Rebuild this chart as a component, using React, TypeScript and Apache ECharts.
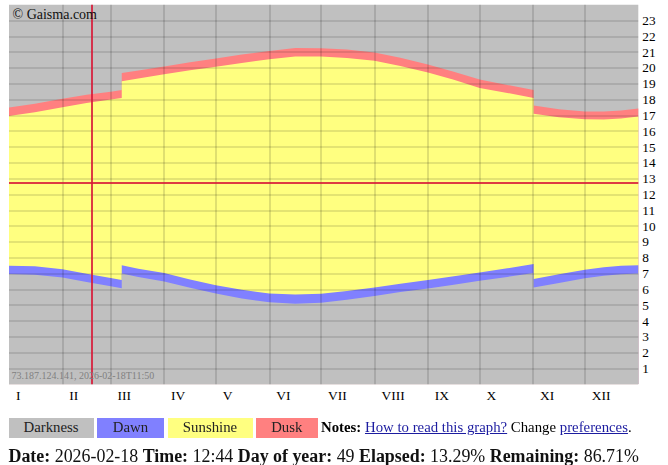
import React, { useEffect, useRef } from "react";
import * as echarts from "echarts";

const monthLabels = ["I", "II", "III", "IV", "V", "VI", "VII", "VIII", "IX", "X", "XI", "XII"];
const monthStarts = [0, 31, 59, 90, 120, 151, 181, 212, 243, 273, 304, 334];
const hourTicks = [1, 2, 3, 4, 5, 6, 7, 8, 9, 10, 11, 12, 13, 14, 15, 16, 17, 18, 19, 20, 21, 22, 23];

// day of year (0-based); duplicated days are the daylight-saving jumps
const days = [0, 15, 31, 45, 59, 65.4, 65.4, 75, 90, 105, 120, 135, 151, 166, 181, 196, 212, 227, 243, 258, 273, 289, 304.3, 304.3, 319, 334, 345, 355, 365];
const dawnStart = [6.97, 6.93, 6.76, 6.46, 6.2, 6.07, 7.0, 6.78, 6.5, 6.1, 5.74, 5.42, 5.18, 5.1, 5.16, 5.34, 5.59, 5.83, 6.06, 6.3, 6.54, 6.79, 7.04, 6.12, 6.41, 6.7, 6.86, 6.96, 7.0];
const sunrise = [7.5, 7.46, 7.28, 6.99, 6.72, 6.6, 7.52, 7.3, 7.03, 6.63, 6.27, 5.97, 5.74, 5.67, 5.73, 5.9, 6.12, 6.36, 6.6, 6.83, 7.07, 7.33, 7.6, 6.65, 6.95, 7.24, 7.4, 7.5, 7.53];
const sunset = [16.96, 17.2, 17.52, 17.78, 18.0, 18.1, 19.16, 19.33, 19.6, 19.85, 20.07, 20.32, 20.55, 20.72, 20.72, 20.63, 20.45, 20.12, 19.71, 19.25, 18.74, 18.42, 18.1, 17.11, 16.88, 16.75, 16.74, 16.8, 16.93];
const duskEnd = [17.5, 17.74, 18.05, 18.3, 18.5, 18.6, 19.68, 19.84, 20.1, 20.36, 20.6, 20.85, 21.08, 21.26, 21.25, 21.16, 20.98, 20.64, 20.22, 19.76, 19.27, 18.93, 18.61, 17.63, 17.39, 17.25, 17.24, 17.31, 17.44];

const todayDay = 48.2;
const nowHour = 12 + 44 / 60;

const FONT = "'Liberation Serif', 'Times New Roman', serif";
const LABEL_SHIFT = 4;

const legendItems = [
  { name: "Darkness", color: "#c0c0c0", left: 8.5, width: 85 },
  { name: "Dawn", color: "#8080ff", left: 97, width: 67 },
  { name: "Sunshine", color: "#ffff80", left: 167.5, width: 85 },
  { name: "Dusk", color: "#ff8080", left: 256, width: 61.5 },
];

function areaSeries(name: string, values: number[], color: string) {
  return {
    type: "line",
    name,
    data: days.map((d, i) => [d, values[i]]),
    symbol: "none",
    showSymbol: false,
    silent: true,
    lineStyle: { width: 0 },
    areaStyle: { color, opacity: 1, origin: "start" },
    z: 2,
  };
}

export default function App() {
  const ref = useRef<HTMLDivElement>(null);
  useEffect(() => {
    if (!ref.current) return;
    const chart = echarts.init(ref.current, undefined, { renderer: "svg" });
    const option: any = {
      animation: false,
      grid: {
        left: 9,
        top: 4.7,
        width: 629.3,
        height: 379.6,
        show: true,
        backgroundColor: "#c0c0c0",
        borderWidth: 0,
      },
      xAxis: {
        type: "value",
        min: 0,
        max: 365,
        axisLine: { show: false },
        axisTick: { show: false },
        splitLine: { show: false },
        axisLabel: {
          customValues: monthStarts.map((d) => d + LABEL_SHIFT),
          formatter: (v: number) => {
            const i = monthStarts.indexOf(Math.round(v - LABEL_SHIFT));
            return i >= 0 ? monthLabels[i] : "";
          },
          align: "left",
          margin: 4,
          fontFamily: FONT,
          fontSize: 13.5,
          color: "#000",
        },
        z: 4,
      },
      yAxis: {
        type: "value",
        position: "right",
        min: 0,
        max: 24,
        interval: 1,
        axisLine: { show: false },
        axisTick: { show: false },
        axisLabel: {
          formatter: (v: number) => (hourTicks.indexOf(v) >= 0 ? String(v) : ""),
          margin: 4,
          fontFamily: FONT,
          fontSize: 13.3,
          color: "#000",
        },
        splitLine: {
          show: true,
          showMinLine: false,
          showMaxLine: false,
          lineStyle: { color: "rgba(0,0,0,0.15)", width: 1.5 },
        },
        z: 4,
      },
      series: [
        areaSeries("Dusk", duskEnd, "#ff8080"),
        areaSeries("Sunshine", sunset, "#ffff80"),
        areaSeries("Dawn", sunrise, "#8080ff"),
        areaSeries("Darkness", dawnStart, "#c0c0c0"),
        {
          type: "line",
          data: [],
          silent: true,
          markLine: {
            silent: true,
            symbol: "none",
            label: { show: false },
            lineStyle: { color: "rgba(0,0,0,0.17)", width: 1.5, type: "solid" },
            data: monthStarts.slice(1).map((d) => ({ xAxis: d })),
          },
        },
        {
          type: "line",
          data: [],
          silent: true,
          markLine: {
            silent: true,
            symbol: "none",
            label: { show: false },
            lineStyle: { color: "rgba(215,25,55,0.85)", width: 2, type: "solid" },
            data: [{ xAxis: todayDay }, { yAxis: nowHour }],
          },
        },
      ],
      graphic: [
        {
          type: "text",
          left: 12.5,
          top: 7.5,
          z: 10,
          silent: true,
          style: { text: "© Gaisma.com", font: `14px ${FONT}`, fill: "#111" },
        },
        {
          type: "text",
          left: 11.5,
          top: 370.5,
          z: 10,
          silent: true,
          style: { text: "73.187.124.141, 2026-02-18T11:50", font: `10px ${FONT}`, fill: "#808080" },
        },
      ],
    };
    chart.setOption(option);
    return () => chart.dispose();
  }, []);

  const linkStyle: React.CSSProperties = { color: "#1c1ca0", textDecoration: "underline" };

  return (
    <div
      style={{
        position: "fixed",
        left: 0,
        top: 0,
        width: 668,
        height: 465,
        background: "#fff",
        fontFamily: FONT,
        color: "#000",
      }}
    >
      <div ref={ref} style={{ position: "absolute", left: 0, top: 0, width: 668, height: 412 }} />
      {legendItems.map((it) => (
        <div
          key={it.name}
          style={{
            position: "absolute",
            left: it.left,
            top: 418,
            width: it.width,
            height: 19.5,
            lineHeight: "19.5px",
            background: it.color,
            textAlign: "center",
            fontSize: 14.8,
            color: "#222",
          }}
        >
          {it.name}
        </div>
      ))}
      <div
        style={{
          position: "absolute",
          left: 321,
          top: 418,
          height: 19.5,
          lineHeight: "19.5px",
          fontSize: 14.8,
          whiteSpace: "nowrap",
        }}
      >
        <b>Notes:</b> <span style={linkStyle}>How to read this graph?</span> Change{" "}
        <span style={linkStyle}>preferences</span>.
      </div>
      <div
        style={{
          position: "absolute",
          left: 8.5,
          top: 446,
          lineHeight: "20px",
          fontSize: 17.9,
          whiteSpace: "nowrap",
          color: "#111",
        }}
      >
        <b>Date:</b> 2026-02-18 <b>Time:</b> 12:44 <b>Day of year:</b> 49 <b>Elapsed:</b> 13.29%{" "}
        <b>Remaining:</b> 86.71%
      </div>
    </div>
  );
}
